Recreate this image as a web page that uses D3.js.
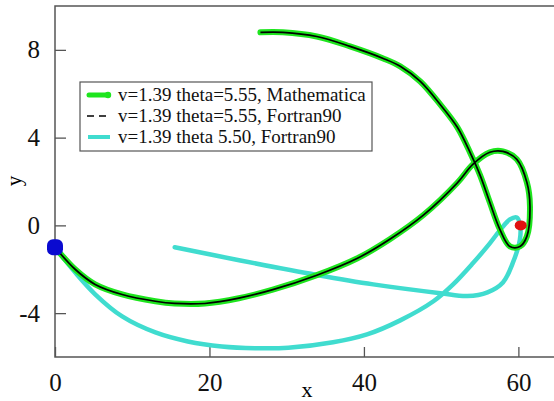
<!DOCTYPE html>
<html>
<head>
<meta charset="utf-8">
<script src="https://cdn.jsdelivr.net/npm/d3@7"></script>
<style>
  body { margin: 0; background: #fff; }
  text { font-family: "Liberation Serif", "DejaVu Serif", serif; }
</style>
</head>
<body>
<div id="chart"></div>
<script>
// theta=5.55 trajectory (Mathematica and Fortran90 agree)
var orbitX = [0, 2.6, 5.2, 8.7, 13.0, 15.5, 19.4, 23.8, 28.2, 33.9, 39.1, 43.4, 47.7, 52.1, 54.1, 56.3, 58.0, 59.8, 61.1, 61.5, 61.1, 60.2, 58.9, 57.6, 56.3, 55.05, 53.8, 52.1, 49.9, 47.3, 44.7, 42.5, 38.2, 33.9, 29.5, 26.6];
var orbitY = [-1.0, -2.0, -2.69, -3.15, -3.46, -3.56, -3.56, -3.32, -2.93, -2.27, -1.51, -0.62, 0.47, 1.94, 2.78, 3.33, 3.37, 3.01, 1.96, 0.87, -0.5, -0.96, -0.96, -0.18, 1.05, 2.28, 3.28, 4.47, 5.5, 6.56, 7.25, 7.61, 8.16, 8.61, 8.8, 8.8];

// theta 5.50 trajectory
var cyanX = [0, 2.6, 5.2, 8.7, 13.0, 17.2, 21.6, 25.9, 30.2, 36.0, 40.4, 44.7, 49.0, 51.55, 54.1, 56.3, 57.6, 58.9, 59.8, 60.2, 60.2, 59.3, 58.0, 56.0, 53.4, 49.9, 41.2, 33.9, 24.0, 15.5];
var cyanY = [-1.0, -2.14, -3.14, -4.15, -4.88, -5.29, -5.52, -5.6, -5.58, -5.33, -4.97, -4.33, -3.46, -2.69, -1.73, -0.82, -0.23, 0.27, 0.36, 0.05, -0.64, -1.69, -2.6, -3.05, -3.22, -3.09, -2.69, -2.26, -1.6, -1.0];

var earth = [0, -1.0];
var moon = [60.3, 0];

var xTicks = [0, 20, 40, 60];
var yTicks = [-4, 0, 4, 8];
var legendLabels = ["v=1.39 theta=5.55, Mathematica", "v=1.39 theta=5.55, Fortran90", "v=1.39 theta 5.50, Fortran90"];

var green = "#1ee51e";
var cyan = "#40dccf";

var svgWidth = 554, svgHeight = 401;
var margin = {top: 6, right: 0, bottom: 44, left: 55};

var svg = d3.select("#chart").append("svg")
  .attr("width", svgWidth)
  .attr("height", svgHeight);

var x = d3.scaleLinear().domain([0, 65]).range([margin.left, 557]);
var y = d3.scaleLinear().domain([-6, 10]).range([svgHeight - margin.bottom, margin.top]);

// frame
svg.append("rect")
  .attr("x", x(0)).attr("y", y(10))
  .attr("width", x(65) - x(0)).attr("height", y(-6) - y(10))
  .attr("fill", "none").attr("stroke", "#555").attr("stroke-width", 1.5);

// axes with inward ticks
var xAxis = svg.append("g")
  .attr("transform", `translate(0, ${y(-6)})`)
  .call(d3.axisBottom(x).tickValues(xTicks).tickSizeInner(-10).tickSizeOuter(0).tickPadding(16));
var yAxis = svg.append("g")
  .attr("transform", `translate(${x(0)}, 0)`)
  .call(d3.axisLeft(y).tickValues(yTicks).tickSizeInner(-11).tickSizeOuter(0).tickPadding(15)
    .tickFormat(d => d < 0 ? "-" + Math.abs(d) : d));

[xAxis, yAxis].forEach(function(g) {
  g.select(".domain").remove();
  g.selectAll(".tick line").attr("stroke", "#555").attr("stroke-width", 1.3);
  g.selectAll(".tick text")
    .attr("font-family", "Liberation Serif, serif")
    .attr("font-size", 25)
    .attr("fill", "#111");
});

// axis titles
svg.append("text")
  .attr("x", 307).attr("y", 397)
  .attr("text-anchor", "middle")
  .attr("font-size", 22)
  .text("x");
svg.append("text")
  .attr("transform", "translate(21, 181) rotate(-90)")
  .attr("text-anchor", "middle")
  .attr("font-size", 21)
  .text("y");

var line = d3.line()
  .x(d => x(d[0]))
  .y(d => y(d[1]))
  .curve(d3.curveCatmullRom.alpha(0.5));

var orbit = orbitX.map((v, i) => [v, orbitY[i]]);
var cyanPts = cyanX.map((v, i) => [v, cyanY[i]]);

svg.append("path")
  .attr("d", line(cyanPts))
  .attr("fill", "none").attr("stroke", cyan)
  .attr("stroke-width", 4.5).attr("stroke-linecap", "round");

svg.append("path")
  .attr("d", line(orbit))
  .attr("fill", "none").attr("stroke", green)
  .attr("stroke-width", 6).attr("stroke-linecap", "round");

svg.append("path")
  .attr("d", line(orbit))
  .attr("fill", "none").attr("stroke", "#000")
  .attr("stroke-width", 1.7);

// earth and moon
svg.append("rect")
  .attr("x", x(earth[0]) - 8).attr("y", y(earth[1]) - 8)
  .attr("width", 16).attr("height", 16).attr("rx", 6)
  .attr("fill", "#0a0ad0");
svg.append("ellipse")
  .attr("cx", x(moon[0])).attr("cy", y(moon[1]))
  .attr("rx", 6).attr("ry", 5).attr("fill", "#e01010");

// legend
var legend = svg.append("g");
legend.append("rect")
  .attr("x", 80).attr("y", 82).attr("width", 292).attr("height", 69)
  .attr("fill", "#fff").attr("stroke", "#555").attr("stroke-width", 1.2);

var rowY = [95, 116, 137];
legend.append("line")
  .attr("x1", 89).attr("x2", 108).attr("y1", rowY[0]).attr("y2", rowY[0])
  .attr("stroke", green).attr("stroke-width", 5).attr("stroke-linecap", "round");
legend.append("circle")
  .attr("cx", 108).attr("cy", rowY[0]).attr("r", 3.2).attr("fill", green);
legend.append("line")
  .attr("x1", 87).attr("x2", 110).attr("y1", rowY[1]).attr("y2", rowY[1])
  .attr("stroke", "#000").attr("stroke-width", 1.6).attr("stroke-dasharray", "7,5");
legend.append("line")
  .attr("x1", 88).attr("x2", 110).attr("y1", rowY[2]).attr("y2", rowY[2])
  .attr("stroke", cyan).attr("stroke-width", 4);

legend.selectAll("text.lbl")
  .data(legendLabels)
  .enter()
  .append("text")
  .attr("class", "lbl")
  .attr("x", 118)
  .attr("y", (d, i) => rowY[i] + 6)
  .attr("font-size", 19)
  .attr("fill", "#111")
  .text(d => d);
</script>
</body>
</html>
